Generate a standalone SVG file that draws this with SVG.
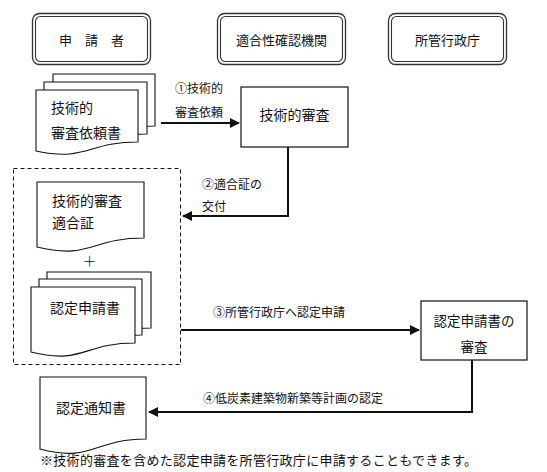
<svg xmlns="http://www.w3.org/2000/svg" width="547" height="472" viewBox="0 0 547 472">
<style>
text{font-family:"Noto Sans CJK JP","Noto Sans",sans-serif;fill:#111}
.h{font-size:13px;text-anchor:middle}
.t{font-size:14px}
.l{font-size:12px}
.box{fill:#fff;stroke:#111;stroke-width:1.2}
.doc{fill:#fff;stroke:#111;stroke-width:1.1}
.ho{fill:#fff;stroke:#333;stroke-width:1.3}
.hi{fill:none;stroke:#333;stroke-width:1.1}
.con{fill:none;stroke:#111;stroke-width:2}
.dash{fill:none;stroke:#111;stroke-width:1;stroke-dasharray:4 3}
</style>
<defs>
<marker id="ah" viewBox="0 0 10 10" refX="9" refY="5" markerWidth="5" markerHeight="5" markerUnits="strokeWidth" orient="auto">
<path d="M0,0 L10,5 L0,10 Z" fill="#111"/>
</marker>
</defs>
<g id="header-applicant"><rect class="ho" x="32.5" y="13.5" width="118" height="51" rx="7"/><rect class="hi" x="35.5" y="16.5" width="112" height="45" rx="5"/><text class="h" x="91.5" y="45">申　請　者</text></g>
<g id="header-agency"><rect class="ho" x="217.5" y="13.5" width="128" height="51" rx="7"/><rect class="hi" x="220.5" y="16.5" width="122" height="45" rx="5"/><text class="h" x="281.5" y="45">適合性確認機関</text></g>
<g id="header-gov"><rect class="ho" x="388.5" y="13.5" width="118" height="51" rx="7"/><rect class="hi" x="391.5" y="16.5" width="112" height="45" rx="5"/><text class="h" x="447.5" y="45">所管行政庁</text></g>

<g id="doc-request">
<path class="doc" d="M53,74 H155 V126 C104,126 104,146 53,135 Z"/>
<path class="doc" d="M44,82 H147 V134 C95,134 95,154 44,143 Z"/>
<path class="doc" d="M36,90 H138 V142 C87,142 87,162 36,151 Z"/>
<text class="t" x="51" y="113">技術的</text>
<text class="t" x="51" y="138">審査依頼書</text>
</g>
<g id="tech-review"><rect class="box" x="241" y="87" width="107" height="60"/><text class="t" x="294.5" y="120" text-anchor="middle">技術的審査</text></g>
<g id="applicant-group"><rect class="dash" x="13.5" y="168.5" width="167" height="196"/></g>
<g id="doc-cert">
<path class="doc" d="M37,182 H144 V238 C90,238 90,260 37,247 Z"/>
<text class="t" x="52" y="206">技術的審査</text>
<text class="t" x="52" y="228">適合証</text>
</g>
<g id="plus"><text x="89.5" y="266" text-anchor="middle" style="font-size:14px;font-weight:300">＋</text></g>
<g id="doc-application">
<path class="doc" d="M47,272 H151 V328 C99,328 99,350 47,337 Z"/>
<path class="doc" d="M39,279 H142 V335 C90,335 90,357 39,344 Z"/>
<path class="doc" d="M31,287 H135 V343 C83,343 83,365 31,352 Z"/>
<text class="t" x="50" y="313">認定申請書</text>
</g>
<g id="gov-review"><rect class="box" x="421" y="301" width="106" height="59"/><text x="474" y="326" text-anchor="middle" style="font-size:13.5px">認定申請書の</text><text x="474" y="352" text-anchor="middle" style="font-size:13.5px">審査</text></g>
<g id="doc-notice">
<path class="doc" d="M40,377 H146 V439 C93,439 93,463 40,449 Z"/>
<text class="t" x="56" y="413">認定通知書</text>
</g>
<g id="connectors">
<path class="con" d="M161,123 H239" marker-end="url(#ah)"/>
<path class="con" d="M288,147 V216 H183" marker-end="url(#ah)"/>
<path class="con" d="M181,330 H419" marker-end="url(#ah)"/>
<path class="con" d="M472,360 V412 H149" marker-end="url(#ah)"/>
<text class="l" x="175" y="93">①技術的</text>
<text class="l" x="175" y="117">審査依頼</text>
<text class="l" x="202" y="189">②適合証の</text>
<text class="l" x="202" y="211">交付</text>
<text class="l" x="213" y="317">③所管行政庁へ認定申請</text>
<text class="l" x="203" y="403">④低炭素建築物新築等計画の認定</text>
</g>
<g id="footnote"><text x="40" y="465" style="font-size:13px" textLength="437" lengthAdjust="spacing">※技術的審査を含めた認定申請を所管行政庁に申請することもできます。</text></g>
</svg>
